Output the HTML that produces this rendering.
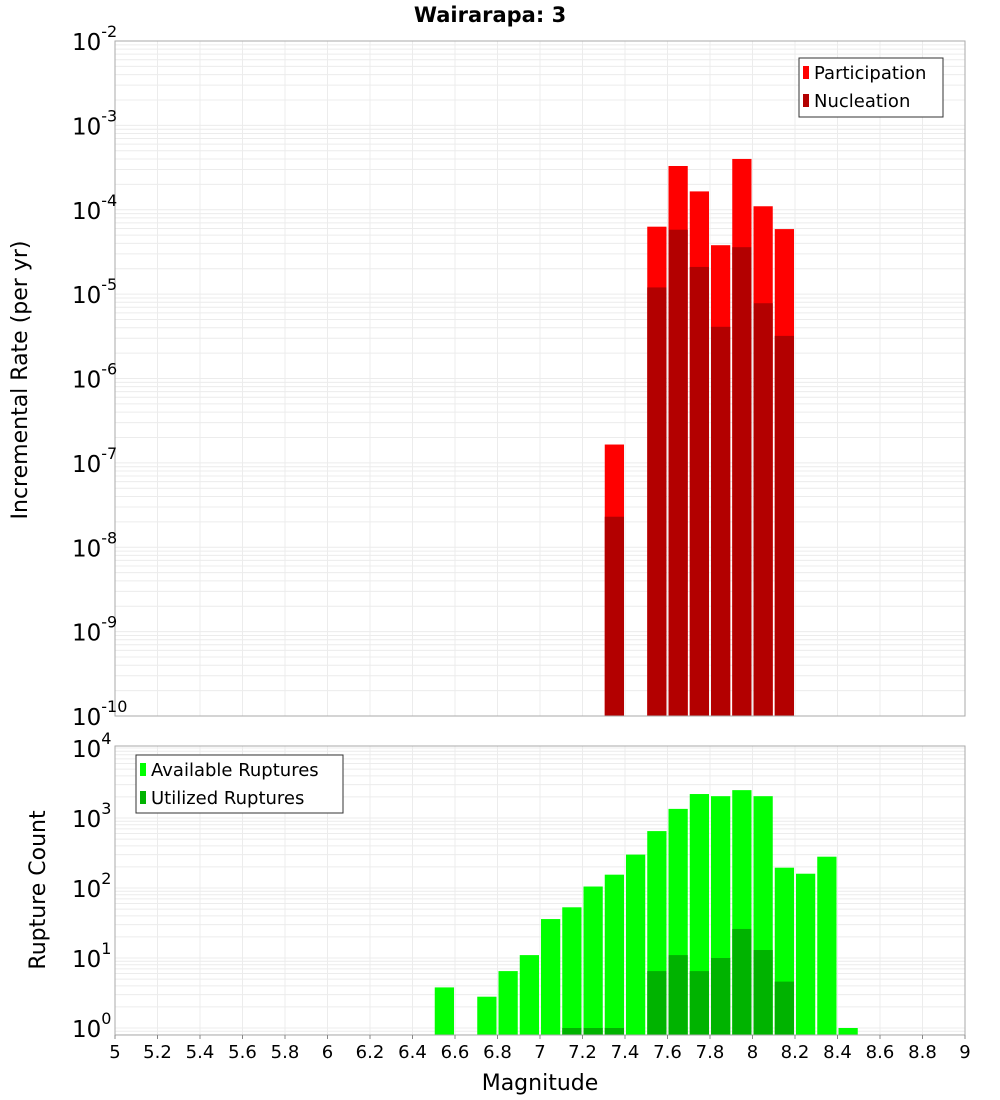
<!DOCTYPE html>
<html><head><meta charset="utf-8"><style>
html,body{margin:0;padding:0;background:#fff;}
svg{display:block;font-family:"DejaVu Sans","Liberation Sans",sans-serif;}
</style></head><body>
<svg id="chart" width="1000" height="1100" viewBox="0 0 1000 1100" xmlns="http://www.w3.org/2000/svg">
<text x="490" y="22" text-anchor="middle" font-size="21" font-weight="bold">Wairarapa: 3</text>
<g id="topplot"></g>
<g id="botplot"></g>
<g id="xaxis"></g>
<text x="540" y="1090" text-anchor="middle" font-size="22">Magnitude</text>
<text transform="translate(27,380) rotate(-90)" text-anchor="middle" font-size="22">Incremental Rate (per yr)</text>
<text transform="translate(45,890) rotate(-90)" text-anchor="middle" font-size="22">Rupture Count</text>
<g>
<rect x="799" y="58" width="144" height="59" fill="#fff" stroke="#333"/>
<rect x="803" y="66" width="6" height="13" fill="#ff0000"/>
<text x="814" y="79" font-size="18">Participation</text>
<rect x="803" y="94" width="6" height="13" fill="#b30000"/>
<text x="814" y="107" font-size="18">Nucleation</text>
</g>
<g>
<rect x="136" y="755" width="207" height="58" fill="#fff" stroke="#333"/>
<rect x="140" y="763" width="6" height="13" fill="#00ff00"/>
<text x="151" y="776" font-size="18">Available Ruptures</text>
<rect x="140" y="791" width="6" height="13" fill="#00b300"/>
<text x="151" y="804" font-size="18">Utilized Ruptures</text>
</g>
</svg>
<script>
const topMags = [7.35, 7.55, 7.65, 7.75, 7.85, 7.95, 8.05, 8.15];
const participation = [1.65e-7, 6.3e-5, 3.3e-4, 1.65e-4, 3.8e-5, 4.0e-4, 1.1e-4, 5.9e-5];
const nucleation = [2.3e-8, 1.2e-5, 5.8e-5, 2.1e-5, 4.1e-6, 3.6e-5, 7.8e-6, 3.2e-6];
const botMags = [6.55, 6.75, 6.85, 6.95, 7.05, 7.15, 7.25, 7.35, 7.45, 7.55, 7.65, 7.75, 7.85, 7.95, 8.05, 8.15, 8.25, 8.35, 8.45];
const available = [3.8, 2.8, 6.5, 11, 36, 53, 105, 155, 300, 650, 1350, 2200, 2050, 2500, 2050, 195, 160, 280, 1];
const utilMags = [7.15, 7.25, 7.35, 7.55, 7.65, 7.75, 7.85, 7.95, 8.05, 8.15];
const utilized = [1, 1, 1, 6.5, 11, 6.5, 10, 26, 13, 4.6];
const xTicks = [5,5.2,5.4,5.6,5.8,6,6.2,6.4,6.6,6.8,7,7.2,7.4,7.6,7.8,8,8.2,8.4,8.6,8.8,9];
const topExps = [-2,-3,-4,-5,-6,-7,-8,-9,-10];
const botExps = [4,3,2,1,0];

{
const NS="http://www.w3.org/2000/svg";
const X0=115,X1=965;
const xs=m=>X0+(m-5)/4*(X1-X0);
const T0=41,T1=716;
const ty=v=>T0+(-2-Math.log10(v))/8*(T1-T0);
const B0=746,B1=1035,BDEC=70,BZ=1028;
const by=v=>BZ-Math.log10(v)*BDEC;
function mk(p,tag,a){const e=document.createElementNS(NS,tag);for(const k in a)e.setAttribute(k,a[k]);p.appendChild(e);return e;}
const gTop=document.getElementById('topplot'),gBot=document.getElementById('botplot'),gX=document.getElementById('xaxis');

function grid(g,y0,y1,yfn,lo,hi){
  for(let i=0;i<=20;i++){const x=xs(5+i*0.2);mk(g,'line',{x1:x,x2:x,y1:y0,y2:y1,stroke:'#ececec','stroke-width':1});}
  for(let e=lo;e<hi;e++)for(let k=1;k<10;k++){const y=yfn(k*Math.pow(10,e));if(y<y0-0.5||y>y1+0.5)continue;mk(g,'line',{x1:X0,x2:X1,y1:y,y2:y,stroke:'#ececec','stroke-width':1});}
}
grid(gTop,T0,T1,ty,-10,-2);
grid(gBot,B0,B1,by,-1,5);

function bar(g,m,v,base,yfn,col,name){
  const x=xs(m-0.05)+1,w=xs(m+0.05)-xs(m-0.05)-2;const y=yfn(v);
  const r=mk(g,'rect',{x:x,y:y,width:w,height:Math.max(0,base-y),fill:col});
  
  
}
participation.forEach((v,i)=>bar(gTop,topMags[i],v,T1,ty,'#ff0000','participation-bar'));
nucleation.forEach((v,i)=>bar(gTop,topMags[i],v,T1,ty,'#b30000','nucleation-bar'));
available.forEach((v,i)=>bar(gBot,botMags[i],v,B1,by,'#00ff00','available-bar'));
utilized.forEach((v,i)=>bar(gBot,utilMags[i],v,B1,by,'#00b300','utilized-bar'));

mk(gTop,'rect',{x:X0,y:T0,width:X1-X0,height:T1-T0,fill:'none',stroke:'#aaa'});
mk(gBot,'rect',{x:X0,y:B0,width:X1-X0,height:B1-B0,fill:'none',stroke:'#aaa'});

function ylab(g,e,y){
  const t=mk(g,'text',{x:72,y:y+9,'font-size':23});
  
  
  const a=document.createElementNS(NS,'tspan');a.textContent='10';t.appendChild(a);
  const b=document.createElementNS(NS,'tspan');b.setAttribute('dy','-13');b.setAttribute('font-size','16');b.textContent=String(e);t.appendChild(b);
}
topExps.forEach(e=>ylab(gTop,e,ty(Math.pow(10,e))));
botExps.forEach(e=>ylab(gBot,e,by(Math.pow(10,e))));

xTicks.forEach(m=>{
  const t=mk(gX,'text',{x:xs(m),y:1058,'text-anchor':'middle','font-size':18});
  t.textContent=String(m);
  
  
  mk(gX,'line',{x1:xs(m),x2:xs(m),y1:B1,y2:B1+4,stroke:'#888'});
});
}
</script>
</body></html>
